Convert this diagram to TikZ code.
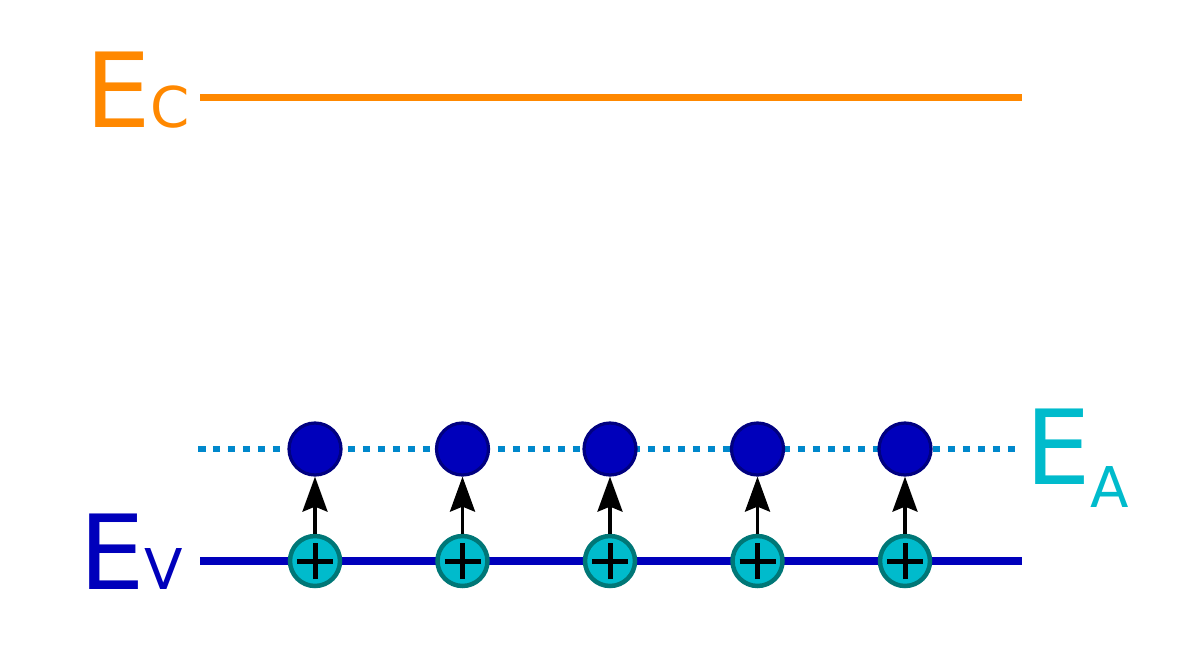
\documentclass[tikz,border=0pt]{standalone}
\usepackage{fontspec}
\setmainfont{DejaVu Sans}
\usepackage{xcolor}
\definecolor{cband}{HTML}{FF8800}
\definecolor{vband}{HTML}{0000BB}
\definecolor{alevel}{HTML}{0088CC}
\definecolor{alabel}{HTML}{00BBCC}
\definecolor{adark}{HTML}{000080}
\definecolor{hfill}{HTML}{00BBCC}
\definecolor{hdraw}{HTML}{007777}
\usetikzlibrary{arrows.meta}
\newcommand{\subsz}{\fontsize{32}{32}\selectfont}
\tikzstyle{band}     = [line width=0.145cm]
\tikzstyle{biglabel} = [inner sep=0, anchor=base west, font=\fontsize{59}{60}\selectfont]
\tikzstyle{acceptor} = [circle, minimum size=1.04cm, inner sep=0, fill=vband,
                        draw=adark, line width=0.065cm]
\tikzstyle{hole}     = [circle, minimum size=1.0cm, inner sep=0, fill=hfill,
                        draw=hdraw, line width=0.09cm,
                        path picture={\draw[black, line width=0.1cm]
                          ([xshift=-0.36cm]path picture bounding box.center) --
                          ([xshift=0.36cm]path picture bounding box.center)
                          ([yshift=-0.36cm]path picture bounding box.center) --
                          ([yshift=0.36cm]path picture bounding box.center);}]
\tikzstyle{arrow}    = [-{Stealth[length=0.7cm, width=0.5cm, inset=0.1cm]},
                        line width=0.07cm, black]
\begin{document}
\begin{tikzpicture}[x=0.02cm, y=-0.02cm]
  \useasboundingbox (0,0) rectangle (1200,646);

  % labels
  \node[biglabel, text=cband] (ec) at (85,127)  {E{\subsz C}};
  \node[biglabel, text=vband] (ev) at (79,589)  {E{\subsz V}};
  \node[biglabel, text=alabel] (ea) at (1025,484) {E{\subsz\raisebox{-0.46cm}{A}}};

  % band edges
  \coordinate (ec-l) at (200,97.5);
  \coordinate (ec-r) at (1022,97.5);
  \coordinate (ev-l) at (200,561);
  \coordinate (ev-r) at (1022,561);
  \coordinate (ea-l) at (198,449);
  \coordinate (ea-r) at (1020,449);

  \draw[band, cband] (ec-l) -- (ec-r);
  \draw[band, vband] (ev-l) -- (ev-r);
  \draw[alevel, line width=0.135cm, dash pattern=on 0.15cm off 0.15cm] (ea-l) -- (ea-r);

  % acceptors and holes
  \node[acceptor] (a1) at (315,449) {};
  \node[acceptor] (a2) at (462.5,449) {};
  \node[acceptor] (a3) at (610,449) {};
  \node[acceptor] (a4) at (757.5,449) {};
  \node[acceptor] (a5) at (905,449) {};

  \node[hole] (h1) at (315,561) {};
  \node[hole] (h2) at (462.5,561) {};
  \node[hole] (h3) at (610,561) {};
  \node[hole] (h4) at (757.5,561) {};
  \node[hole] (h5) at (905,561) {};

  \draw[arrow] (h1) -- (a1);
  \draw[arrow] (h2) -- (a2);
  \draw[arrow] (h3) -- (a3);
  \draw[arrow] (h4) -- (a4);
  \draw[arrow] (h5) -- (a5);
\end{tikzpicture}
\end{document}
